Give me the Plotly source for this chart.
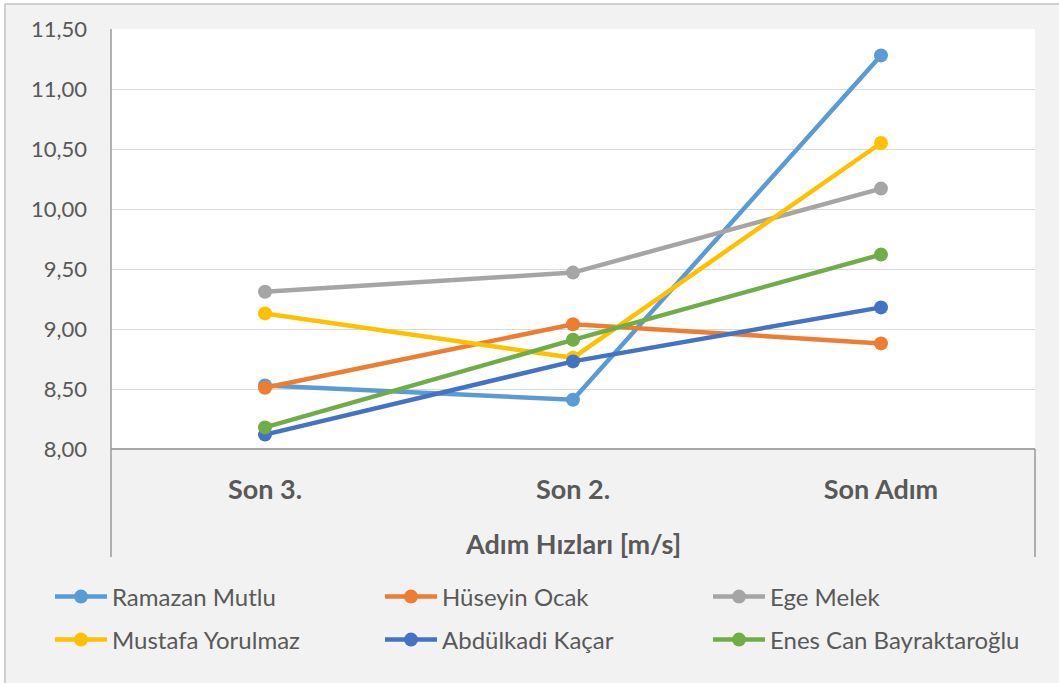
import plotly.graph_objects as go

categories = ["Son 3.", "Son 2.", "Son Adım"]
names = ["Ramazan Mutlu", "Hüseyin Ocak", "Ege Melek",
         "Mustafa Yorulmaz", "Abdülkadi Kaçar", "Enes Can Bayraktaroğlu"]
ramazan = [8.53, 8.41, 11.28]
huseyin = [8.51, 9.04, 8.88]
ege = [9.31, 9.47, 10.17]
mustafa = [9.13, 8.76, 10.55]
abdulkadi = [8.12, 8.73, 9.18]
enes = [8.18, 8.91, 9.62]
series = [ramazan, huseyin, ege, mustafa, abdulkadi, enes]
colors = ["#5B9BD5", "#ED7D31", "#A5A5A5", "#FFC000", "#4472C4", "#70AD47"]
y_ticks = [8.0, 8.5, 9.0, 9.5, 10.0, 10.5, 11.0, 11.5]
x_title = "Adım Hızları [m/s]"

W, H = 1059, 683
L, R, T, B = 111, 1035, 29, 449


def px(x):
    return (x - L) / (R - L)


def py(y):
    return (B - y) / (B - T)


FONT = "Lato"
GREY = "#595959"

fig = go.Figure()
legend_names = ["legend", "legend2", "legend3", "legend4", "legend5", "legend6"]
for i, (nm, vals, c) in enumerate(zip(names, series, colors)):
    fig.add_trace(go.Scatter(
        x=categories, y=vals, name=nm, mode="lines+markers",
        line=dict(color=c, width=4.5),
        marker=dict(color=c, size=14),
        legend=legend_names[i],
        hoverinfo="skip",
    ))

# legend positions (row, col)
col_x = [55, 385, 713]
row_y = [597, 640]
layout_legends = {}
for i, ln in enumerate(legend_names):
    r, c = divmod(i, 3)
    layout_legends[ln] = dict(
        x=px(col_x[c] - 5), y=py(row_y[r]), xanchor="left", yanchor="middle",
        bgcolor="rgba(0,0,0,0)", borderwidth=0,
        font=dict(family=FONT, size=24, color=GREY),
        itemwidth=52,
    )

shapes = [
    # axis lines
    dict(type="line", xref="paper", yref="paper", x0=0, x1=1, y0=0, y1=0,
         line=dict(color="#8C8C8C", width=1.5)),
    dict(type="line", xref="paper", yref="paper", x0=0, x1=0, y0=py(557), y1=1,
         line=dict(color="#9A9A9A", width=1.5)),
    dict(type="line", xref="paper", yref="paper", x0=1, x1=1, y0=py(557), y1=0,
         line=dict(color="#9A9A9A", width=1.5)),
    # outer white strips + frame border
    dict(type="rect", xref="paper", yref="paper", x0=px(-20), x1=px(4), y0=py(720), y1=py(-20),
         fillcolor="white", line=dict(width=0), layer="above"),
    dict(type="rect", xref="paper", yref="paper", x0=px(-20), x1=px(1080), y0=py(3), y1=py(-20),
         fillcolor="white", line=dict(width=0), layer="above"),
    dict(type="line", xref="paper", yref="paper", x0=px(5), x1=px(5), y0=py(720), y1=py(4),
         line=dict(color="#D0D0D0", width=2), layer="above"),
    dict(type="line", xref="paper", yref="paper", x0=px(5), x1=px(1080), y0=py(4), y1=py(4),
         line=dict(color="#D0D0D0", width=2), layer="above"),
]

fig.update_layout(
    width=W, height=H,
    margin=dict(l=L, r=W - R, t=T, b=H - B, autoexpand=False),
    paper_bgcolor="#F2F2F2", plot_bgcolor="white",
    separators=",.",
    font=dict(family=FONT, color=GREY),
    showlegend=True,
    shapes=shapes,
    annotations=[dict(text="<b>" + x_title + "</b>", xref="paper", yref="paper",
                      x=0.5, y=py(543), xanchor="center", yanchor="middle",
                      showarrow=False, font=dict(family=FONT, size=27, color=GREY))],
    xaxis=dict(type="category", range=[-0.5, 2.5], showgrid=False, showline=False,
               zeroline=False, ticks="", ticklabelstandoff=22,
               tickfont=dict(family=FONT, size=27, color=GREY),
               tickmode="array", tickvals=categories,
               ticktext=["<b>" + c + "</b>" for c in categories]),
    yaxis=dict(range=[8, 11.5], tickvals=y_ticks, tickformat=".2f",
               showgrid=True, gridcolor="#D9D9D9", gridwidth=1.3,
               showline=False, zeroline=False, ticks="", ticklabelstandoff=23,
               tickfont=dict(family=FONT, size=22, color=GREY)),
    **layout_legends,
)

fig.write_html(
    "out.html",
    config={"displayModeBar": False},
    post_script="document.body.style.margin='0';document.body.style.overflow='hidden';",
)
